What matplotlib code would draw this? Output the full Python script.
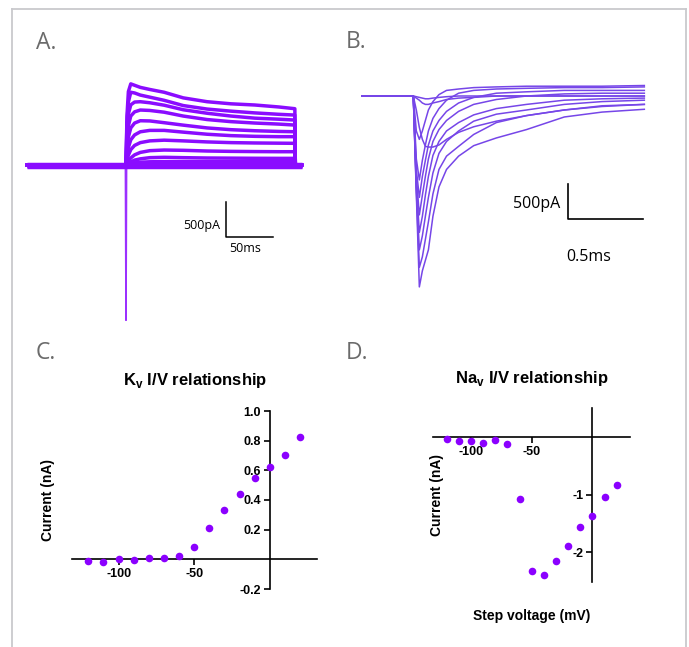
import matplotlib
matplotlib.use('Agg')
import matplotlib.pyplot as plt
from matplotlib.lines import Line2D

W, H = 689, 647
PURPLE_K = '#8A0CFF'
PURPLE_NA = '#7646E8'
DOT = '#8B00FF'
GREY_TXT = '#6b6b6b'

# --- A: Kv current traces (time ms, current pA) ---
k_t = [-104, 0, 1, 2.5, 5, 9, 15, 25, 40, 60, 85, 110, 135, 160, 177, 177.5, 184]
k_traces = [
    [0, 0, 700, 1050, 1160, 1140, 1110, 1080, 1040, 960, 905, 875, 858, 830, 805, 0, 0],
    [0, 0, 600, 900, 1040, 1030, 1000, 970, 925, 850, 800, 770, 745, 725, 714, 0, 0],
    [0, 0, 480, 730, 860, 900, 905, 890, 855, 790, 740, 700, 670, 655, 643, 0, 0],
    [0, 0, 350, 560, 700, 760, 786, 780, 755, 700, 650, 620, 600, 585, 571, 0, 0],
    [0, 0, 240, 400, 530, 600, 633, 630, 605, 570, 530, 505, 490, 480, 476, 0, 0],
    [0, 0, 140, 250, 360, 430, 475, 495, 495, 470, 440, 420, 410, 405, 405, 0, 0],
    [0, 0, 70, 140, 220, 280, 320, 345, 355, 345, 330, 320, 315, 312, 310, 0, 0],
    [0, 0, 30, 60, 100, 145, 180, 205, 214, 210, 200, 195, 192, 190, 190, 0, 0],
    [0, 0, 10, 25, 45, 70, 88, 105, 110, 105, 100, 98, 96, 95, 95, 0, 0],
    [0, 0, 5, 10, 20, 30, 40, 46, 48, 48, 48, 48, 48, 48, 48, 0, 0],
]
k_hold_levels = [-35, -20, -8, 5, 18]
k_cap_t = [-0.6, 0.0, 0.6]
k_cap_i = [0, -2220, 0]

# --- B: Nav current traces (time ms, current nA) ---
na_t = [-0.34, 0, 0.02, 0.04, 0.06, 0.08, 0.10, 0.13, 0.17, 0.22, 0.30, 0.40, 0.55, 0.75, 1.00, 1.25, 1.53]
na_traces = [
    [0, 0, -1.40, -2.73, -2.50, -2.35, -2.20, -1.72, -1.30, -1.05, -0.86, -0.71, -0.60, -0.48, -0.30, -0.23, -0.19],
    [0, 0, -1.35, -2.45, -2.30, -2.05, -1.80, -1.40, -1.05, -0.86, -0.72, -0.55, -0.38, -0.28, -0.20, -0.15, -0.12],
    [0, 0, -1.30, -2.20, -2.00, -1.72, -1.45, -1.10, -0.82, -0.65, -0.50, -0.36, -0.26, -0.20, -0.12, -0.08, -0.06],
    [0, 0, -1.25, -1.95, -1.72, -1.42, -1.15, -0.85, -0.65, -0.50, -0.38, -0.27, -0.18, -0.12, -0.06, -0.04, -0.03],
    [0, 0, -1.15, -1.70, -1.42, -1.15, -0.90, -0.65, -0.48, -0.35, -0.22, -0.12, -0.05, 0.00, 0.03, 0.04, 0.04],
    [0, 0, -1.05, -1.45, -1.15, -0.92, -0.70, -0.50, -0.35, -0.22, -0.10, -0.02, 0.04, 0.06, 0.08, 0.08, 0.08],
    [0, 0, -0.90, -1.20, -0.92, -0.70, -0.50, -0.32, -0.18, -0.06, 0.04, 0.08, 0.10, 0.11, 0.12, 0.12, 0.13],
    [0, 0, -0.20, -0.45, -0.62, -0.72, -0.73, -0.73, -0.70, -0.62, -0.52, -0.44, -0.36, -0.28, -0.20, -0.14, -0.12],
    [0, 0, -0.03, -0.06, -0.10, -0.12, -0.12, -0.10, -0.08, -0.05, -0.03, -0.02, 0.00, 0.00, 0.00, 0.00, 0.00],
    [0, 0, -0.01, -0.02, -0.03, -0.04, -0.04, -0.03, -0.02, -0.01, 0.00, 0.00, 0.00, 0.00, 0.00, 0.00, 0.00],
    [0, 0, -0.50, -0.62, -0.50, -0.35, -0.20, -0.08, 0.02, 0.08, 0.10, 0.12, 0.13, 0.14, 0.14, 0.14, 0.15],
]

# --- C/D: I/V relationships ---
step_mv = [-120, -110, -100, -90, -80, -70, -60, -50, -40, -30, -20, -10, 0, 10, 20]
kv_na = [-0.011, -0.018, 0.0, -0.002, 0.009, 0.009, 0.02, 0.085, 0.21, 0.335, 0.442, 0.55, 0.621, 0.704, 0.822]
nav_na = [-0.035, -0.058, -0.058, -0.093, -0.047, -0.11, -1.076, -2.33, -2.395, -2.157, -1.884, -1.558, -1.372, -1.04, -0.826]
kv_yticks = [-0.2, 0.2, 0.4, 0.6, 0.8, 1.0]
nav_yticks = [-2, -1]
v_ticks = [-100, -50]

plt.rcParams['mathtext.fontset'] = 'custom'
plt.rcParams['mathtext.rm'] = 'Liberation Sans:bold'
BOLD = dict(family='Liberation Sans', fontweight='bold')


def px_rect(l, t, r, b):
    return [l / W, 1 - b / H, (r - l) / W, (b - t) / H]


def fx(x):
    return x / W


def fy(y):
    return 1 - y / H


fig = plt.figure(figsize=(W / 100, H / 100), dpi=100)
fig.patch.set_facecolor('white')

# outer frame
fc = '#c9c9cd'
for xs, ys in [([12, 12], [9, H]), ([12, 686], [9, 9]), ([686, 686], [9, H])]:
    fig.add_artist(Line2D([fx(v) for v in xs], [fy(v) for v in ys], color=fc, lw=1.3))

# panel letters
for lab, x, y in [('A.', 36, 49), ('B.', 346, 48.5), ('C.', 36, 359), ('D.', 346, 359)]:
    fig.text(fx(x), fy(y), lab, fontsize=16.5, color=GREY_TXT, family='Open Sans', va='baseline', ha='left')

# A
axA = fig.add_axes(px_rect(20, 70, 320, 330))
axA.set_xlim((20 - 126) / 0.954, (320 - 126) / 0.954)
axA.set_ylim((165 - 330) * 14.3, (165 - 70) * 14.3)
axA.axis('off')
for lvl in k_hold_levels:
    axA.plot([k_t[0], k_t[-1]], [lvl, lvl], color=PURPLE_K, lw=2.5, solid_capstyle='butt')
for tr in k_traces:
    axA.plot(k_t, tr, color=PURPLE_K, lw=2.5, solid_joinstyle='round')
axA.plot(k_cap_t, k_cap_i, color=PURPLE_K, lw=1.2, alpha=0.85)
axA.plot([104.5, 104.5, 154.5], [-525, -1025, -1025], color='black', lw=1.1)
fig.text(fx(220), fy(226), '500pA', fontsize=9, family='Open Sans', ha='right', va='center')
fig.text(fx(229), fy(249), '50ms', fontsize=9, family='Open Sans', ha='left', va='center')

# B
axB = fig.add_axes(px_rect(355, 70, 650, 300))
axB.set_xlim((355 - 413.3) / 151, (650 - 413.3) / 151)
axB.set_ylim((96 - 300) * 0.0143, (96 - 70) * 0.0143)
axB.axis('off')
for tr in na_traces:
    axB.plot(na_t, tr, color=PURPLE_NA, lw=1.1, solid_joinstyle='round')
axB.plot([1.0225, 1.0225, 1.5225], [-1.258, -1.763, -1.763], color='black', lw=1.2)
fig.text(fx(560), fy(204.3), '500pA', fontsize=11.5, family='Open Sans', ha='right', va='center')
fig.text(fx(566.7), fy(256.7), '0.5ms', fontsize=11.5, family='Open Sans', ha='left', va='center')


def iv_axes(rect, ylim, yticks, ylabels):
    ax = fig.add_axes(rect)
    ax.set_xlim(-131, 31)
    ax.set_ylim(*ylim)
    for s in ('top', 'right'):
        ax.spines[s].set_visible(False)
    ax.spines['left'].set_position(('data', 0))
    ax.spines['bottom'].set_position(('data', 0))
    for s in ('left', 'bottom'):
        ax.spines[s].set_linewidth(1.2)
    ax.set_xticks(v_ticks)
    ax.set_xticklabels([str(v) for v in v_ticks])
    ax.set_yticks(yticks)
    ax.set_yticklabels(ylabels)
    ax.tick_params(direction='out', length=4, width=1.2, pad=2.5, labelsize=9)
    for t in ax.get_xticklabels() + ax.get_yticklabels():
        t.set_fontfamily('Liberation Sans')
        t.set_fontweight('bold')
    ax.patch.set_alpha(0)
    return ax


# C
axC = iv_axes(px_rect(71.7, 411, 316.7, 589), (-0.2, 1.0), kv_yticks, ['%.1f' % v for v in kv_yticks])
axC.scatter(step_mv, kv_na, s=30, color=DOT, zorder=3, clip_on=False, linewidths=0)
fig.text(fx(195), fy(380), r'K$_\mathrm{v}$ I/V relationship', fontsize=12, ha='center', va='center', **BOLD)
fig.text(fx(48), fy(500), 'Current (nA)', fontsize=10, rotation=90, ha='center', va='center', **BOLD)

# D
axD = iv_axes(px_rect(433.3, 408.3, 630, 582.3), (-2.52, 0.504), nav_yticks, [str(v) for v in nav_yticks])
axD.scatter(step_mv, nav_na, s=30, color=DOT, zorder=3, clip_on=False, linewidths=0)
fig.text(fx(531.7), fy(378.3), r'Na$_\mathrm{v}$ I/V relationship', fontsize=12, ha='center', va='center', **BOLD)
fig.text(fx(436.7), fy(495), 'Current (nA)', fontsize=10, rotation=90, ha='center', va='center', **BOLD)
fig.text(fx(531.7), fy(616), 'Step voltage (mV)', fontsize=10, ha='center', va='center', **BOLD)

fig.savefig('out.png', dpi=100, facecolor='white')
